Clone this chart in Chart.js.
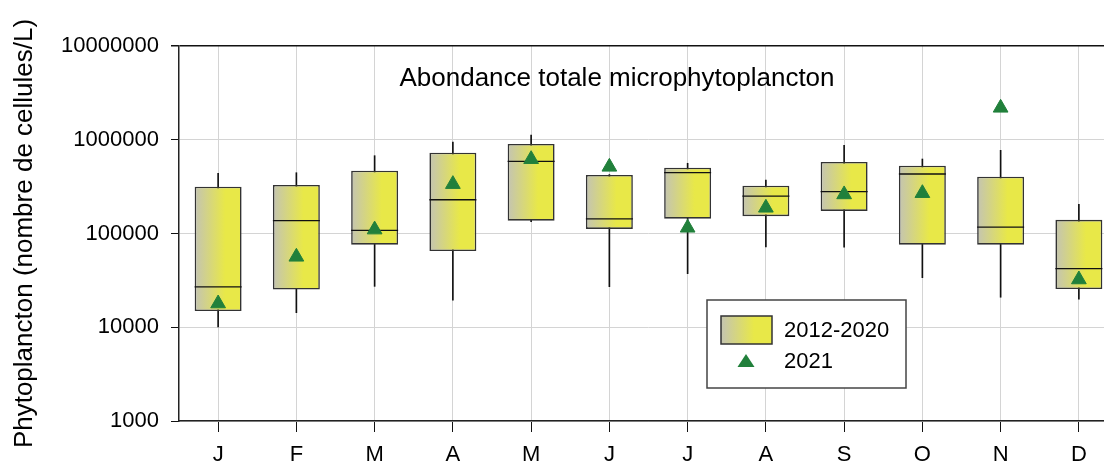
<!DOCTYPE html>
<html>
<head>
<meta charset="utf-8">
<script src="https://cdn.jsdelivr.net/npm/chart.js@4/dist/chart.umd.min.js"></script>
<style>
  html, body { margin: 0; padding: 0; background: #fff; overflow: hidden; }
  #myChart { display: block; width: 1118px; height: 464px; }
</style>
</head>
<body>
<canvas id="myChart" width="1118" height="464"></canvas>
<script>
// months and values
const months = ['J', 'F', 'M', 'A', 'M', 'J', 'J', 'A', 'S', 'O', 'N', 'D'];
const yTicks = [1000, 10000, 100000, 1000000, 10000000];

// 2012-2020 box plot
const whiskerLow = [10100, 14300, 27300, 19500, 134000, 27100, 37300, 71800, 71300, 33800, 20900, 19900];
const q1 = [14900, 25200, 76000, 65000, 137000, 112000, 144000, 153000, 174000, 76000, 76000, 25600];
const median = [26900, 137000, 108000, 229000, 589000, 143000, 445000, 251000, 279000, 431000, 117000, 42200];
const q3 = [316000, 329000, 468000, 728000, 901000, 421000, 503000, 324000, 579000, 529000, 404000, 140000];
const whiskerHigh = [438000, 445000, 676000, 946000, 1120000, 425000, 561000, 372000, 873000, 623000, 771000, 205000];

// 2021
const y2021 = [17900, 56400, 110000, 336000, 620000, 514000, 115000, 188000, 261000, 269000, 2190000, 32300];

const FONT = "'Liberation Sans', Arial, sans-serif";
const GREY = '#c4c4b2';
const YELLOW = '#e8e848';
const GREEN = '#21803b';

function boxGradient(c, x0, x1) {
  const g = c.createLinearGradient(x0, 0, x1, 0);
  g.addColorStop(0, GREY);
  g.addColorStop(0.65, YELLOW);
  g.addColorStop(1, YELLOW);
  return g;
}

const overlay = {
  id: 'overlay',
  afterDraw(chart) {
    const c = chart.ctx;
    c.save();
    // title inside plot
    c.fillStyle = '#000';
    c.font = '26px ' + FONT;
    c.textAlign = 'center';
    c.textBaseline = 'alphabetic';
    c.fillText('Abondance totale microphytoplancton', 617, 86);

    // legend box
    c.fillStyle = '#fff';
    c.fillRect(707, 300, 199, 88);
    c.strokeStyle = '#444';
    c.lineWidth = 1.5;
    c.strokeRect(707, 300, 199, 88);

    c.fillStyle = boxGradient(c, 721, 772);
    c.fillRect(721, 316, 51, 28);
    c.strokeStyle = '#333';
    c.strokeRect(721, 316, 51, 28);

    c.fillStyle = GREEN;
    c.beginPath();
    c.moveTo(746, 354);
    c.lineTo(754.5, 367);
    c.lineTo(737.5, 367);
    c.closePath();
    c.fill();

    c.fillStyle = '#000';
    c.font = '22px ' + FONT;
    c.textAlign = 'left';
    c.textBaseline = 'middle';
    c.fillText('2012-2020', 784, 331);
    c.fillText('2021', 784, 362);
    c.restore();
  }
};

const config = {
  type: 'bar',
  data: {
    labels: months,
    datasets: [
      {
        label: '2021',
        type: 'line',
        data: y2021,
        showLine: false,
        pointStyle: 'triangle',
        pointRadius: 8.5,
        pointHoverRadius: 8.5,
        pointBackgroundColor: GREEN,
        pointBorderColor: GREEN,
        pointBorderWidth: 1,
        order: 0,
      },
      {
        label: 'median',
        type: 'line',
        data: median,
        showLine: false,
        pointStyle: 'line',
        pointRadius: 23.5,
        pointHoverRadius: 23.5,
        pointBorderColor: '#111',
        pointBorderWidth: 1.3,
        order: 1,
      },
      {
        label: '2012-2020',
        data: q1.map((v, i) => [v, q3[i]]),
        grouped: false,
        barPercentage: 0.6,
        categoryPercentage: 1.0,
        borderWidth: 1.6,
        borderColor: '#333',
        borderSkipped: false,
        backgroundColor: (ctx) => {
          const chart = ctx.chart;
          if (!chart.chartArea || ctx.type !== 'data') return YELLOW;
          const x = chart.scales.x.getPixelForValue(ctx.dataIndex);
          return boxGradient(chart.ctx, x - 23.5, x + 23.5);
        },
        order: 2,
      },
      {
        label: 'whiskers',
        data: whiskerLow.map((v, i) => [v, whiskerHigh[i]]),
        grouped: false,
        barThickness: 1,
        backgroundColor: '#111',
        borderWidth: 0,
        order: 3,
      },
    ],
  },
  options: {
    responsive: false,
    animation: false,
    layout: { autoPadding: false, padding: { top: 46, right: 0, left: 0, bottom: 0 } },
    plugins: {
      legend: { display: false },
      title: { display: false },
      tooltip: { enabled: false },
    },
    scales: {
      x: {
        offset: true,
        afterFit: (scale) => {
          scale.height = 43;
          scale.paddingLeft = 0;
          scale.paddingRight = 0;
        },
        grid: {
          offset: false,
          color: '#d4d4d4',
          tickColor: '#111',
          tickLength: 11,
          lineWidth: 1,
        },
        border: { color: '#222', width: 1.5 },
        ticks: {
          color: '#000',
          padding: 10,
          font: { family: FONT, size: 22 },
        },
      },
      y: {
        type: 'logarithmic',
        min: 1000,
        max: 10000000,
        afterFit: (scale) => { scale.width = 179; },
        afterBuildTicks: (scale) => {
          scale.ticks = yTicks.map(v => ({ value: v }));
        },
        grid: {
          color: (ctx) => (ctx.tick && ctx.tick.value === 10000000 ? '#111' : '#d4d4d4'),
          lineWidth: (ctx) => (ctx.tick && ctx.tick.value === 10000000 ? 1.5 : 1),
          tickColor: '#111',
          tickLength: 8,
        },
        border: { color: '#222', width: 1.5 },
        ticks: {
          color: '#000',
          padding: 12,
          font: { family: FONT, size: 22 },
          callback: (v) => String(v),
        },
        title: {
          display: true,
          text: 'Phytoplancton (nombre de cellules/L)',
          color: '#000',
          padding: { top: 9, bottom: 0 },
          font: { family: FONT, size: 26, lineHeight: 1.2 },
        },
      },
    },
  },
  plugins: [overlay],
};

const myChart = new Chart(document.getElementById('myChart'), config);
</script>
</body>
</html>
